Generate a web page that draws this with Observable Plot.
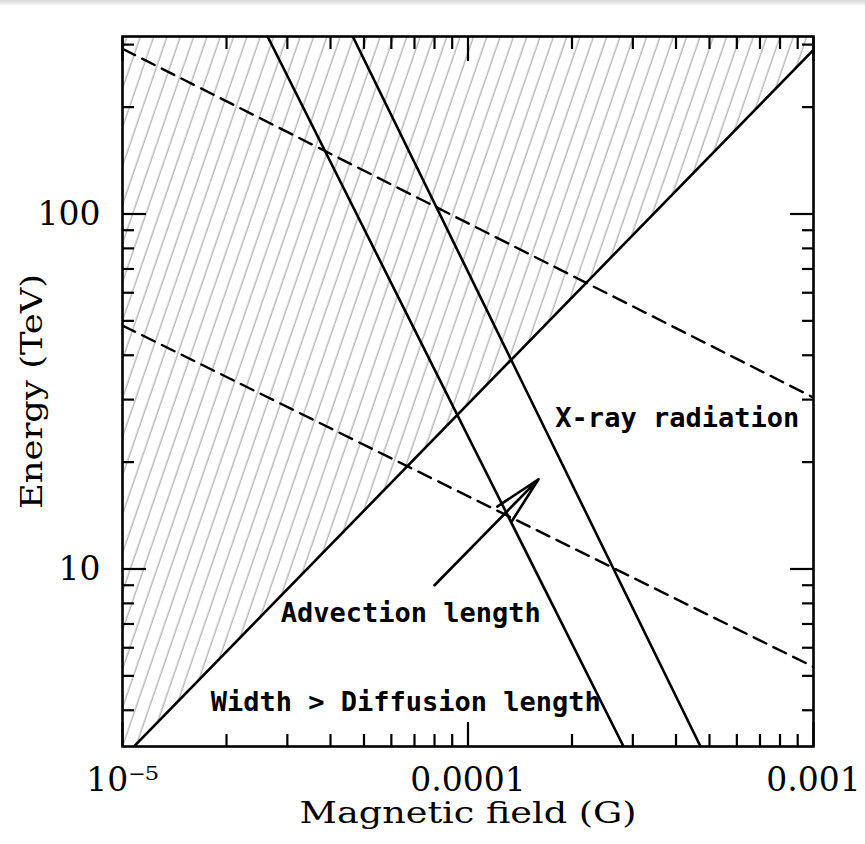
<!DOCTYPE html>
<html><head><meta charset="utf-8">
<script src="https://cdn.jsdelivr.net/npm/d3@7"></script>
<script src="https://cdn.jsdelivr.net/npm/@observablehq/plot@0.6"></script>
<style>
body{margin:0;background:#fff;}
#bar{position:absolute;left:0;top:0;width:865px;height:5px;background:linear-gradient(#d9d9d9,#f2f2f2);}
</style></head><body><div id="bar"></div><div id="chart"></div>
<script>
// ---- data ----
const xDomain = [1e-5, 1e-3];
const yDomain = [3.162, 316.2];
const xMajor = [1e-5, 1e-4, 1e-3];
const xTickLabels = ["10⁻⁵", "0.0001", "0.001"];
const xMinor = [2e-5, 3e-5, 4e-5, 5e-5, 6e-5, 7e-5, 8e-5, 9e-5, 2e-4, 3e-4, 4e-4, 5e-4, 6e-4, 7e-4, 8e-4, 9e-4];
const yMajor = [10, 100];
const yTickLabels = ["10", "100"];
const yMinor = [4, 5, 6, 7, 8, 9, 20, 30, 40, 50, 60, 70, 80, 90, 200, 300];

// boundary: width = diffusion length (solid rising line)
const diffusionB = [1e-5, 1e-3];
const diffusionE = [2.93, 290];
// advection length lines (solid, steep)
const advection1B = [2.63e-5, 2.82e-4];
const advection1E = [316.2, 3.162];
const advection2B = [4.64e-5, 4.71e-4];
const advection2E = [316.2, 3.162];
// X-ray radiation lines (dashed)
const xrayUpperB = [1e-5, 1e-3];
const xrayUpperE = [292, 30.4];
const xrayLowerB = [1e-5, 1e-3];
const xrayLowerE = [48.5, 5.3];

// annotations
const labelTexts = ["X-ray radiation", "Advection length", "Width > Diffusion length"];
const labelB = [1.79e-4, 2.87e-5, 1.80e-5];
const labelE = [26.5, 7.5, 4.21];
const arrowStart = [8.0e-5, 9.0];
const arrowEnd = [1.6e-4, 17.9];
const xTitle = "Magnetic field (G)";
const yTitle = "Energy (TeV)";

// ---- tables ----
const toRows = (B, E) => B.map((b, i) => ({B: b, E: E[i]}));
const diffusion = toRows(diffusionB, diffusionE);
const adv1 = toRows(advection1B, advection1E);
const adv2 = toRows(advection2B, advection2E);
const xrU = toRows(xrayUpperB, xrayUpperE);
const xrL = toRows(xrayLowerB, xrayLowerE);
const labels = labelTexts.map((t, i) => ({t, B: labelB[i], E: labelE[i]}));
const xLab = new Map(xMajor.map((v, i) => [v, xTickLabels[i]]));
const yLab = new Map(yMajor.map((v, i) => [v, yTickLabels[i]]));

const defsMark = () => {
  const g = d3.create("svg:defs");
  const p = g.append("pattern").attr("id", "hatch").attr("patternUnits", "userSpaceOnUse")
    .attr("width", 12.6).attr("height", 40).attr("patternTransform", "rotate(19)");
  p.append("line").attr("x1", 6).attr("x2", 6).attr("y1", -2).attr("y2", 42)
    .attr("stroke", "#999").attr("stroke-width", 1);
  return g.node();
};

const tickStyle = {strokeWidth: 2.2, tickFormat: () => ""};
const chart = Plot.plot({
  width: 865, height: 844,
  marginLeft: 122, marginRight: 52, marginTop: 36, marginBottom: 98,
  x: {type: "log", domain: xDomain, axis: null},
  y: {type: "log", domain: yDomain, axis: null},
  style: {fontFamily: "DejaVu Serif", fontSize: "33px", color: "black", background: "white"},
  marks: [
    defsMark,
    Plot.areaY(diffusion, {x: "B", y1: "E", y2: () => yDomain[1], fill: "url(#hatch)", clip: true}),
    // ticks (inward, all four sides)
    Plot.axisX(xMajor, {anchor: "bottom", tickSize: -24, ...tickStyle}),
    Plot.axisX(xMinor, {anchor: "bottom", tickSize: -12, ...tickStyle}),
    Plot.axisX(xMajor, {anchor: "top", tickSize: -24, ...tickStyle}),
    Plot.axisX(xMinor, {anchor: "top", tickSize: -12, ...tickStyle}),
    Plot.axisY(yMajor, {anchor: "left", tickSize: -24, ...tickStyle}),
    Plot.axisY(yMinor, {anchor: "left", tickSize: -12, ...tickStyle}),
    Plot.axisY(yMajor, {anchor: "right", tickSize: -24, ...tickStyle}),
    Plot.axisY(yMinor, {anchor: "right", tickSize: -12, ...tickStyle}),
    // tick labels
    Plot.axisX(xMajor, {anchor: "bottom", tickSize: 0, tickPadding: 21, fontSize: 33, fontFamily: "DejaVu Serif",
      tickFormat: d => xLab.get(d), label: null}),
    Plot.axisY(yMajor, {anchor: "left", tickSize: 0, tickPadding: 22, fontSize: 33, fontFamily: "DejaVu Serif",
      tickFormat: d => yLab.get(d), label: null}),
    // curves
    Plot.line(diffusion, {x: "B", y: "E", stroke: "black", strokeWidth: 2.6, clip: true}),
    Plot.line(adv1, {x: "B", y: "E", stroke: "black", strokeWidth: 2.6, clip: true}),
    Plot.line(adv2, {x: "B", y: "E", stroke: "black", strokeWidth: 2.6, clip: true}),
    Plot.line(xrU, {x: "B", y: "E", stroke: "black", strokeWidth: 2.4, strokeDasharray: "14,8", clip: true}),
    Plot.line(xrL, {x: "B", y: "E", stroke: "black", strokeWidth: 2.4, strokeDasharray: "14,8", clip: true}),
    Plot.arrow([{x1: arrowStart[0], y1: arrowStart[1], x2: arrowEnd[0], y2: arrowEnd[1]}],
      {x1: "x1", y1: "y1", x2: "x2", y2: "y2", stroke: "black", strokeWidth: 2.6, headAngle: 24, headLength: 30}),
    Plot.text(labels, {x: "B", y: "E", text: "t", textAnchor: "start", lineAnchor: "middle",
      fontFamily: "DejaVu Sans Mono", fontWeight: "bold", fontSize: 27, fill: "black"}),
    Plot.frame({stroke: "black", strokeWidth: 2.6}),
    // axis titles
    Plot.text([xTitle], {frameAnchor: "bottom", dy: 67, textAnchor: "middle", lineAnchor: "middle", fontSize: 30,
      fontFamily: "DejaVu Serif", fill: "black"}),
    Plot.text([yTitle], {frameAnchor: "left", dx: -90, rotate: -90, textAnchor: "middle", lineAnchor: "middle", fontSize: 30,
      fontFamily: "DejaVu Serif", fill: "black"})
  ]
});
const stretch = (txt, len) => d3.select(chart).selectAll("text")
  .filter(function() { return this.textContent === txt; })
  .attr("textLength", len).attr("lengthAdjust", "spacingAndGlyphs");
stretch(xTitle, 337);
stretch(yTitle, 235);
document.getElementById("chart").appendChild(chart);
</script></body></html>
